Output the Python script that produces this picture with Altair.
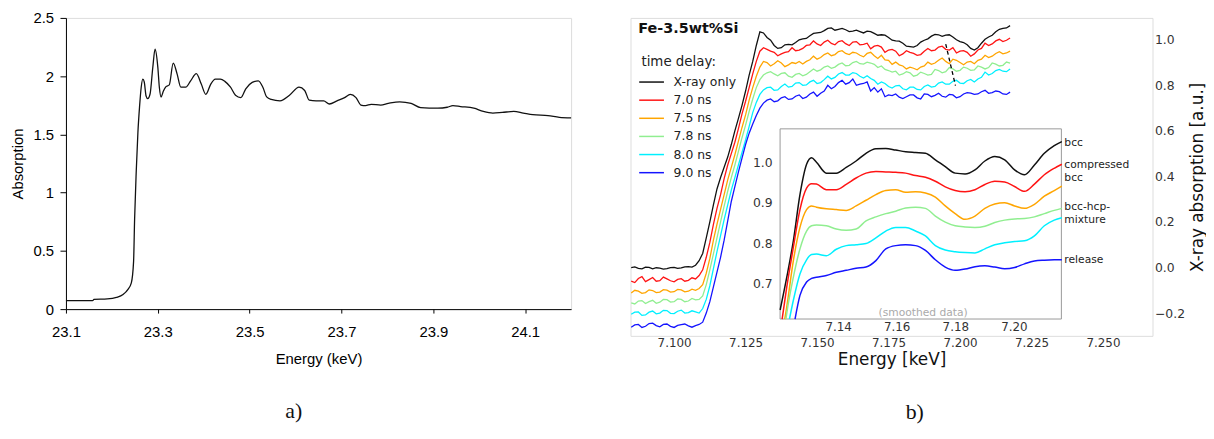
import altair as alt
import pandas as pd

# ---------------- panel a) : absorption spectrum ----------------
a_energy = [23.100, 23.158, 23.161, 23.190, 23.210, 23.2243, 23.2351, 23.2424, 23.2473, 23.2495,
            23.2531, 23.2567, 23.2603, 23.2639, 23.2674, 23.2705, 23.2745, 23.2782, 23.2833, 23.2890,
            23.2941, 23.3000, 23.3035, 23.3071, 23.3120, 23.3179, 23.3250, 23.3336, 23.3420, 23.3502,
            23.3608, 23.3715, 23.3839, 23.3947, 23.4046, 23.4154, 23.4253, 23.4361, 23.4460, 23.4584,
            23.4692, 23.4808, 23.4916, 23.5056, 23.5189, 23.5288, 23.5371, 23.5470, 23.5661, 23.5868,
            23.6075, 23.6199, 23.6298, 23.6447, 23.6613, 23.6737, 23.6902, 23.7068, 23.7192, 23.7316,
            23.7424, 23.7523, 23.7647, 23.7854, 23.8020, 23.8268, 23.8517, 23.8724, 23.9096, 23.9303,
            23.9427, 23.9593, 23.9882, 24.0089, 24.0296, 24.0503, 24.0752, 24.0959, 24.1166, 24.1497,
            24.1745, 24.2000]
a_absorption = [0.072, 0.073, 0.083, 0.087, 0.100, 0.125, 0.170, 0.225, 0.410, 0.770,
                1.185, 1.517, 1.738, 1.905, 1.974, 1.950, 1.830, 1.807, 1.849, 2.070,
                2.231, 2.080, 1.900, 1.821, 1.870, 1.910, 1.925, 2.112, 2.020, 1.905,
                1.905, 1.960, 2.021, 1.932, 1.844, 1.932, 1.974, 1.974, 1.955, 1.905,
                1.836, 1.816, 1.891, 1.946, 1.960, 1.905, 1.822, 1.800, 1.788, 1.836,
                1.905, 1.877, 1.794, 1.788, 1.788, 1.761, 1.788, 1.816, 1.844, 1.816,
                1.752, 1.747, 1.758, 1.752, 1.766, 1.780, 1.766, 1.730, 1.725, 1.733,
                1.747, 1.739, 1.725, 1.697, 1.683, 1.689, 1.697, 1.683, 1.669, 1.661,
                1.647, 1.642]
a_xticks = [23.1, 23.3, 23.5, 23.7, 23.9, 24.1]
a_yticks = [0, 0.5, 1, 1.5, 2, 2.5]

# ---------------- panel b) : time-resolved XANES ----------------
series = ["X-ray only", "7.0 ns", "7.5 ns", "7.8 ns", "8.0 ns", "9.0 ns"]
colors = ["#111111", "#ff1414", "#ffa500", "#90ee90", "#00f0ff", "#1414ff"]

main_energy = [7.0850, 7.0875, 7.0900, 7.0925, 7.0950, 7.0975, 7.1000, 7.1025, 7.1050,
               7.1075, 7.1100, 7.1125, 7.1150, 7.1175, 7.1200, 7.1225, 7.1250, 7.1275, 7.1300,
               7.1325, 7.1350, 7.1375, 7.1400, 7.1425, 7.1450, 7.1475, 7.1500, 7.1525, 7.1550,
               7.1575, 7.1600, 7.1625, 7.1650, 7.1675, 7.1700, 7.1725, 7.1750, 7.1775, 7.1800,
               7.1825, 7.1850, 7.1875, 7.1900, 7.1925, 7.1950, 7.1975, 7.2000, 7.2025, 7.2050,
               7.2075, 7.2100, 7.2125, 7.2150, 7.2175]
main_energy_mid = [7.08625, 7.08875, 7.09125, 7.09375, 7.09625, 7.09875, 7.10125, 7.10375, 7.10625,
                   7.10875, 7.11125, 7.11375, 7.11625, 7.11875, 7.12125, 7.12375, 7.12625, 7.12875,
                   7.13125, 7.13375, 7.13625, 7.13875, 7.14125, 7.14375, 7.14625, 7.14875, 7.15125,
                   7.15375, 7.15625, 7.15875, 7.16125, 7.16375, 7.16625, 7.16875, 7.17125, 7.17375,
                   7.17625, 7.17875, 7.18125, 7.18375, 7.18625, 7.18875, 7.19125, 7.19375, 7.19625,
                   7.19875, 7.20125, 7.20375, 7.20625, 7.20875, 7.21125, 7.21375, 7.21625]

main_xray_only = [0.000, -0.004, 0.002, -0.006, -0.003, -0.005, 0.001, -0.002, 0.004,
                  0.010, 0.062, 0.200, 0.345, 0.440, 0.540, 0.655, 0.775, 0.905, 1.035,
                  1.010, 0.975, 0.965, 0.980, 0.988, 1.004, 1.018, 1.030, 1.040, 1.052,
                  1.046, 1.044, 1.038, 1.036, 1.038, 1.028, 1.022, 1.010, 0.995, 0.985,
                  0.970, 0.975, 0.998, 1.016, 1.022, 1.020, 1.012, 0.992, 0.978, 0.955,
                  0.985, 1.012, 1.035, 1.050, 1.062]
main_xray_only_mid = [0.003, -0.006, 0.001, -0.001, -0.007, 0.000, -0.004, 0.003, 0.002,
                      0.030, 0.130, 0.275, 0.395, 0.485, 0.600, 0.712, 0.845, 0.975,
                      1.030, 0.998, 0.962, 0.978, 0.978, 1.000, 1.006, 1.028, 1.032, 1.050,
                      1.042, 1.050, 1.036, 1.042, 1.030, 1.036, 1.020, 1.020, 0.998, 0.994,
                      0.972, 0.968, 0.990, 1.004, 1.024, 1.015, 1.022, 1.000, 0.988, 0.962,
                      0.965, 1.002, 1.020, 1.046, 1.052]
main_7_0 = [-0.060, -0.048, -0.062, -0.044, -0.058, -0.050, -0.063, -0.049, -0.056,
            -0.050, -0.010, 0.110, 0.260, 0.390, 0.500, 0.610, 0.730, 0.850, 0.950,
            0.958, 0.945, 0.938, 0.948, 0.952, 0.962, 0.978, 0.982, 0.990, 0.984,
            0.992, 0.983, 0.990, 0.978, 0.985, 0.972, 0.968, 0.955, 0.950, 0.938,
            0.945, 0.932, 0.950, 0.952, 0.968, 0.958, 0.965, 0.950, 0.945, 0.938,
            0.962, 0.975, 0.995, 0.992, 1.008]
main_7_0_mid = [-0.066, -0.040, -0.053, -0.060, -0.042, -0.058, -0.052, -0.060, -0.045,
                -0.035, 0.045, 0.190, 0.320, 0.450, 0.550, 0.675, 0.790, 0.905,
                0.965, 0.950, 0.930, 0.945, 0.965, 0.955, 0.975, 0.995, 0.975, 0.998,
                0.978, 0.996, 0.975, 0.992, 0.980, 0.960, 0.975, 0.945, 0.958, 0.930,
                0.952, 0.940, 0.935, 0.962, 0.955, 0.972, 0.955, 0.942, 0.952, 0.928,
                0.955, 0.985, 0.982, 1.002, 0.998]
main_7_5 = [-0.112, -0.104, -0.110, -0.101, -0.108, -0.099, -0.106, -0.098, -0.104,
            -0.100, -0.075, 0.040, 0.190, 0.320, 0.440, 0.555, 0.670, 0.790, 0.880,
            0.900, 0.895, 0.898, 0.890, 0.896, 0.894, 0.912, 0.915, 0.935, 0.930,
            0.948, 0.940, 0.945, 0.932, 0.940, 0.930, 0.932, 0.910, 0.902, 0.885,
            0.880, 0.868, 0.885, 0.892, 0.910, 0.905, 0.915, 0.900, 0.902, 0.895,
            0.915, 0.922, 0.940, 0.938, 0.950]
main_7_5_mid = [-0.100, -0.113, -0.098, -0.110, -0.097, -0.108, -0.096, -0.107, -0.095,
                -0.092, -0.025, 0.120, 0.255, 0.385, 0.495, 0.615, 0.735, 0.840,
                0.905, 0.885, 0.908, 0.882, 0.900, 0.905, 0.905, 0.928, 0.922, 0.942,
                0.935, 0.952, 0.935, 0.942, 0.925, 0.945, 0.918, 0.912, 0.892, 0.890,
                0.872, 0.875, 0.880, 0.902, 0.898, 0.920, 0.895, 0.910, 0.890, 0.905,
                0.910, 0.932, 0.928, 0.948, 0.942]
main_7_8 = [-0.155, -0.147, -0.158, -0.144, -0.152, -0.141, -0.150, -0.140, -0.147,
            -0.142, -0.125, -0.010, 0.130, 0.270, 0.395, 0.510, 0.625, 0.740, 0.825,
            0.855, 0.850, 0.852, 0.840, 0.848, 0.842, 0.860, 0.862, 0.880, 0.875,
            0.892, 0.886, 0.900, 0.895, 0.902, 0.892, 0.885, 0.865, 0.862, 0.850,
            0.855, 0.845, 0.852, 0.848, 0.865, 0.860, 0.872, 0.866, 0.875, 0.868,
            0.880, 0.878, 0.893, 0.888, 0.897]
main_7_8_mid = [-0.160, -0.145, -0.150, -0.157, -0.140, -0.152, -0.138, -0.150, -0.136,
                -0.140, -0.075, 0.060, 0.200, 0.335, 0.450, 0.570, 0.685, 0.790,
                0.845, 0.860, 0.842, 0.855, 0.835, 0.852, 0.848, 0.872, 0.868, 0.885,
                0.880, 0.898, 0.888, 0.905, 0.893, 0.898, 0.878, 0.870, 0.858, 0.845,
                0.860, 0.840, 0.858, 0.845, 0.870, 0.855, 0.878, 0.862, 0.880, 0.866,
                0.885, 0.872, 0.898, 0.885, 0.902]
main_8_0 = [-0.205, -0.195, -0.208, -0.191, -0.200, -0.189, -0.202, -0.187, -0.198,
            -0.195, -0.180, -0.080, 0.070, 0.210, 0.340, 0.450, 0.560, 0.680, 0.760,
            0.790, 0.778, 0.795, 0.792, 0.810, 0.800, 0.815, 0.808, 0.825, 0.828,
            0.850, 0.845, 0.856, 0.840, 0.842, 0.822, 0.815, 0.795, 0.798, 0.785,
            0.792, 0.782, 0.795, 0.792, 0.810, 0.805, 0.818, 0.810, 0.820, 0.815,
            0.835, 0.845, 0.865, 0.862, 0.872]
main_8_0_mid = [-0.196, -0.210, -0.196, -0.203, -0.188, -0.201, -0.192, -0.200, -0.190,
                -0.200, -0.140, -0.005, 0.140, 0.275, 0.395, 0.505, 0.620, 0.725,
                0.780, 0.792, 0.780, 0.806, 0.795, 0.812, 0.802, 0.822, 0.812, 0.840,
                0.835, 0.856, 0.845, 0.852, 0.832, 0.830, 0.805, 0.808, 0.788, 0.800,
                0.780, 0.792, 0.780, 0.802, 0.795, 0.815, 0.805, 0.822, 0.808, 0.826,
                0.828, 0.858, 0.852, 0.870, 0.860]
main_9_0 = [-0.262, -0.250, -0.258, -0.244, -0.260, -0.248, -0.263, -0.251, -0.256,
            -0.255, -0.240, -0.150, -0.020, 0.120, 0.290, 0.420, 0.540, 0.630, 0.700,
            0.735, 0.728, 0.745, 0.738, 0.752, 0.742, 0.762, 0.752, 0.775, 0.785,
            0.812, 0.805, 0.828, 0.805, 0.815, 0.790, 0.785, 0.758, 0.762, 0.742,
            0.758, 0.745, 0.762, 0.750, 0.765, 0.748, 0.758, 0.750, 0.768, 0.760,
            0.772, 0.765, 0.775, 0.762, 0.770]
main_9_0_mid = [-0.252, -0.263, -0.246, -0.255, -0.250, -0.258, -0.254, -0.248, -0.262,
                -0.250, -0.200, -0.085, 0.045, 0.205, 0.355, 0.480, 0.590, 0.668,
                0.722, 0.740, 0.732, 0.750, 0.740, 0.758, 0.748, 0.770, 0.765, 0.800,
                0.795, 0.822, 0.812, 0.800, 0.808, 0.775, 0.770, 0.750, 0.755, 0.748,
                0.750, 0.758, 0.740, 0.760, 0.756, 0.752, 0.760, 0.745, 0.762, 0.766,
                0.762, 0.778, 0.768, 0.772, 0.760]
main_values = [main_xray_only, main_7_0, main_7_5, main_7_8, main_8_0, main_9_0]
main_values_mid = [main_xray_only_mid, main_7_0_mid, main_7_5_mid, main_7_8_mid,
                   main_8_0_mid, main_9_0_mid]
main_xdomain = [7.08476, 7.26732]
main_ydomain = [-0.300, 1.096]
main_xticks = [7.100, 7.125, 7.150, 7.175, 7.200, 7.225, 7.250]
main_yticks = [-0.2, 0.0, 0.2, 0.4, 0.6, 0.8, 1.0]

dash_energy = [7.1950, 7.1984]
dash_value = [0.981, 0.799]

# inset (smoothed data)
inset_energy = [7.12022, 7.12248, 7.12473, 7.12698, 7.12924, 7.13093, 7.13262, 7.13600,
                7.13938, 7.14276, 7.14614, 7.14952, 7.15290, 7.15628, 7.15967, 7.16305,
                7.16643, 7.16981, 7.17319, 7.17657, 7.17995, 7.18333, 7.18671, 7.19009,
                7.19347, 7.19685, 7.20023, 7.20362, 7.20700, 7.21038, 7.21376, 7.21635]
inset_bcc = [0.635, 0.716, 0.806, 0.920, 0.995, 1.011, 1.000, 0.973, 0.973, 0.987,
             1.003, 1.022, 1.033, 1.034, 1.030, 1.026, 1.024, 1.022, 1.006, 0.989,
             0.973, 0.971, 0.981, 1.003, 1.014, 1.006, 0.981, 0.969, 0.993, 1.022,
             1.041, 1.051]
inset_7_0 = [None, 0.692, 0.790, 0.883, 0.936, 0.947, 0.946, 0.932, 0.932, 0.945,
             0.961, 0.973, 0.977, 0.976, 0.975, 0.973, 0.967, 0.963, 0.953, 0.939,
             0.930, 0.927, 0.932, 0.945, 0.953, 0.951, 0.940, 0.928, 0.946, 0.969,
             0.985, 0.995]
inset_7_5 = [None, 0.643, 0.757, 0.839, 0.883, 0.892, 0.889, 0.885, 0.883, 0.881,
             0.892, 0.906, 0.920, 0.930, 0.932, 0.926, 0.927, 0.924, 0.914, 0.892,
             0.873, 0.859, 0.867, 0.886, 0.897, 0.900, 0.892, 0.886, 0.896, 0.916,
             0.930, 0.941]
inset_7_8 = [None, 0.627, 0.716, 0.786, 0.830, 0.843, 0.845, 0.843, 0.835, 0.832,
             0.835, 0.855, 0.865, 0.873, 0.879, 0.887, 0.889, 0.886, 0.867, 0.852,
             0.843, 0.840, 0.839, 0.842, 0.851, 0.857, 0.860, 0.861, 0.865, 0.873,
             0.881, 0.886]
inset_8_0 = [None, None, 0.659, 0.724, 0.759, 0.772, 0.773, 0.769, 0.785, 0.794,
             0.796, 0.799, 0.813, 0.830, 0.839, 0.839, 0.830, 0.818, 0.794, 0.783,
             0.779, 0.777, 0.776, 0.786, 0.796, 0.801, 0.804, 0.806, 0.818, 0.843,
             0.857, 0.863]
inset_9_0 = [None, None, None, 0.671, 0.704, 0.713, 0.716, 0.720, 0.728, 0.733,
             0.738, 0.741, 0.757, 0.786, 0.794, 0.796, 0.794, 0.782, 0.759, 0.741,
             0.733, 0.736, 0.742, 0.744, 0.741, 0.737, 0.740, 0.749, 0.756, 0.758,
             0.759, 0.759]
inset_values = [inset_bcc, inset_7_0, inset_7_5, inset_7_8, inset_8_0, inset_9_0]
# energy where each smoothed curve leaves the inset through its lower edge
inset_exit_energy = [None, 7.1209, 7.1218, 7.1222, 7.1234, 7.1253]
inset_xdomain = [7.1202, 7.2162]
inset_ydomain = [0.6127, 1.0824]
inset_xticks = [7.14, 7.16, 7.18, 7.20]
inset_yticks = [0.7, 0.8, 0.9, 1.0]

phase_labels = ["bcc", "compressed", "bcc", "bcc-hcp-", "mixture", "release"]
phase_label_values = [1.048, 0.994, 0.960, 0.889, 0.857, 0.759]

# ---------------- tables ----------------
for vals in main_values:
    assert len(vals) == len(main_energy)
for vals in main_values_mid:
    assert len(vals) == len(main_energy_mid)
for vals in inset_values:
    assert len(vals) == len(inset_energy)
assert len(a_energy) == len(a_absorption)

df_a = pd.DataFrame({"energy": a_energy, "absorption": a_absorption})

main_rows = []
for name, vals, vals_mid in zip(series, main_values, main_values_mid):
    for e, v in zip(main_energy, vals):
        main_rows.append({"energy": e, "value": v, "series": name})
    for e, v in zip(main_energy_mid, vals_mid):
        main_rows.append({"energy": e, "value": v, "series": name})
df_main = pd.DataFrame(main_rows).sort_values(["series", "energy"]).reset_index(drop=True)

inset_rows = []
for name, start, vals in zip(series, inset_exit_energy, inset_values):
    if start is not None:
        inset_rows.append({"energy": start, "value": inset_ydomain[0], "series": name})
    for e, v in zip(inset_energy, vals):
        if v is not None:
            inset_rows.append({"energy": e, "value": v, "series": name})
df_inset = pd.DataFrame(inset_rows)

df_dash = pd.DataFrame({"energy": dash_energy, "value": dash_value})
df_labels = pd.DataFrame({"label": phase_labels, "value": phase_label_values})
df_one = pd.DataFrame({"k": [0]})

SANS_A = "Liberation Sans"
SANS_B = "DejaVu Sans"

# ---------------- panel a ----------------
panel_a = alt.Chart(df_a).mark_line(color="#111111", strokeWidth=1.3,
                                    interpolate="monotone").encode(
    x=alt.X("energy:Q",
            scale=alt.Scale(domain=[23.1, 24.2], nice=False, zero=False),
            axis=alt.Axis(values=a_xticks, format=".1f", title="Energy (keV)", grid=False,
                          domainColor="#000", tickColor="#000", tickSize=4, labelPadding=12,
                          labelFont=SANS_A, labelFontSize=15, labelColor="#000",
                          titleFont=SANS_A, titleFontSize=15, titleFontWeight="normal",
                          titleColor="#000", titlePadding=12, labelFlush=False,
                          labelOverlap=False)),
    y=alt.Y("absorption:Q",
            scale=alt.Scale(domain=[0, 2.5], nice=False, zero=False),
            axis=alt.Axis(values=a_yticks, format="~g", title="Absorption", grid=False,
                          domainColor="#000", tickColor="#000", tickSize=6, labelPadding=6.5,
                          labelFont=SANS_A, labelFontSize=15, labelColor="#000",
                          titleFont=SANS_A, titleFontSize=15, titleFontWeight="normal",
                          titleColor="#000", titlePadding=8, labelOverlap=False)),
).properties(
    width=510, height=294,
    title=alt.TitleParams("a)", orient="bottom", anchor="middle", font="Liberation Serif",
                          fontSize=22, fontWeight="normal", color="#111", offset=35, dx=-25),
)

# ---------------- panel b : main plot ----------------
main_lines = alt.Chart(df_main).mark_line(strokeWidth=1.3).encode(
    x=alt.X("energy:Q",
            scale=alt.Scale(domain=main_xdomain, nice=False, zero=False),
            axis=alt.Axis(orient="bottom", values=main_xticks, format=".3f",
                          title="Energy [keV]", grid=False, domain=False, ticks=False,
                          tickSize=0, labelPadding=2, titlePadding=3,
                          labelFont=SANS_B, labelFontSize=12, labelColor="#333",
                          titleFont=SANS_B, titleFontSize=17, titleFontWeight="normal",
                          titleColor="#111", labelFlush=False, labelOverlap=False)),
    y=alt.Y("value:Q",
            scale=alt.Scale(domain=main_ydomain, nice=False, zero=False),
            axis=alt.Axis(orient="right", values=main_yticks, format=".1f",
                          title="X-ray absorption [a.u.]", grid=False, domain=False,
                          ticks=False, tickSize=0, labelPadding=2, titlePadding=5,
                          labelFont=SANS_B, labelFontSize=12.5, labelColor="#333",
                          titleFont=SANS_B, titleFontSize=17, titleFontWeight="normal",
                          titleColor="#111", titleAngle=270, titleBaseline="top",
                          labelOverlap=False)),
    color=alt.Color("series:N",
                    scale=alt.Scale(domain=series, range=colors),
                    legend=alt.Legend(title="time delay:", orient="none", legendX=11,
                                      legendY=38, padding=0, titleFont=SANS_B,
                                      titleFontSize=13.5, titleFontWeight="normal",
                                      titleColor="#222", titlePadding=7,
                                      labelFont=SANS_B, labelFontSize=12.5,
                                      labelColor="#222", symbolType="M-2.5,0H2.5",
                                      symbolSize=100, symbolStrokeWidth=1.5,
                                      symbolOffset=4, labelOffset=16,
                                      rowPadding=5.3)),
)

dash_line = alt.Chart(df_dash).mark_line(color="#000", strokeWidth=1.3,
                                         strokeDash=[4, 3]).encode(
    x="energy:Q", y="value:Q")

sample_text = alt.Chart(df_one).mark_text(
    text="Fe-3.5wt%Si", align="left", baseline="middle", font=SANS_B,
    fontSize=14.5, fontWeight="bold", color="#111").encode(
    x=alt.datum(7.0875), y=alt.datum(1.045))

main_layer = alt.layer(main_lines, dash_line, sample_text)

# ---------------- panel b : inset ----------------
inset_frame = alt.Chart(df_one).mark_rect(fill="white", stroke="#999",
                                          strokeWidth=1).encode(
    x=alt.datum(inset_xdomain[0]), x2=alt.datum(inset_xdomain[1]),
    y=alt.datum(inset_ydomain[0]), y2=alt.datum(inset_ydomain[1]))

inset_lines = alt.Chart(df_inset).mark_line(strokeWidth=1.5, interpolate="monotone").encode(
    x=alt.X("energy:Q",
            scale=alt.Scale(domain=inset_xdomain, range=[151, 435], nice=False, zero=False),
            axis=alt.Axis(orient="bottom", offset=-17, values=inset_xticks, format=".2f",
                          title=None, grid=False, domain=False, ticks=False, tickSize=0,
                          labelPadding=3, labelFont=SANS_B, labelFontSize=12,
                          labelColor="#333", labelFlush=False, labelOverlap=False)),
    y=alt.Y("value:Q",
            scale=alt.Scale(domain=inset_ydomain, range=[304, 112], nice=False, zero=False),
            axis=alt.Axis(orient="left", offset=-151, values=inset_yticks, format=".1f",
                          title=None, grid=False, domain=False, ticks=False, tickSize=0,
                          labelPadding=8, labelFont=SANS_B, labelFontSize=12.5,
                          labelColor="#333", labelOverlap=False)),
    color=alt.Color("series:N", scale=alt.Scale(domain=series, range=colors), legend=None),
)

phase_text = alt.Chart(df_labels).mark_text(
    align="left", baseline="middle", dx=3, font=SANS_B, fontSize=10.8,
    color="#222").encode(
    x=alt.datum(inset_xdomain[1]), y="value:Q", text="label:N")

smooth_text = alt.Chart(df_one).mark_text(
    text="(smoothed data)", align="center", baseline="alphabetic", dy=-3,
    font=SANS_B, fontSize=10.8, color="#aaaaaa").encode(
    x=alt.datum(7.1690), y=alt.datum(inset_ydomain[0]))

inset_layer = alt.layer(inset_frame, inset_lines, phase_text, smooth_text)

panel_b = alt.layer(main_layer, inset_layer).resolve_scale(
    x="independent", y="independent", color="independent"
).properties(
    width=527, height=321,
    title=alt.TitleParams("b)", orient="bottom", anchor="middle", font="Liberation Serif",
                          fontSize=22, fontWeight="normal", color="#111", offset=35, dx=23.5),
)

chart = alt.hconcat(panel_a, panel_b, spacing=53).properties(
    padding={"left": 1.5, "top": 0, "right": 0, "bottom": 0}
).configure_view(stroke="#999999", strokeWidth=1).configure(font=SANS_B)

chart.save("out.html", embed_options={"renderer": "svg", "actions": False})
